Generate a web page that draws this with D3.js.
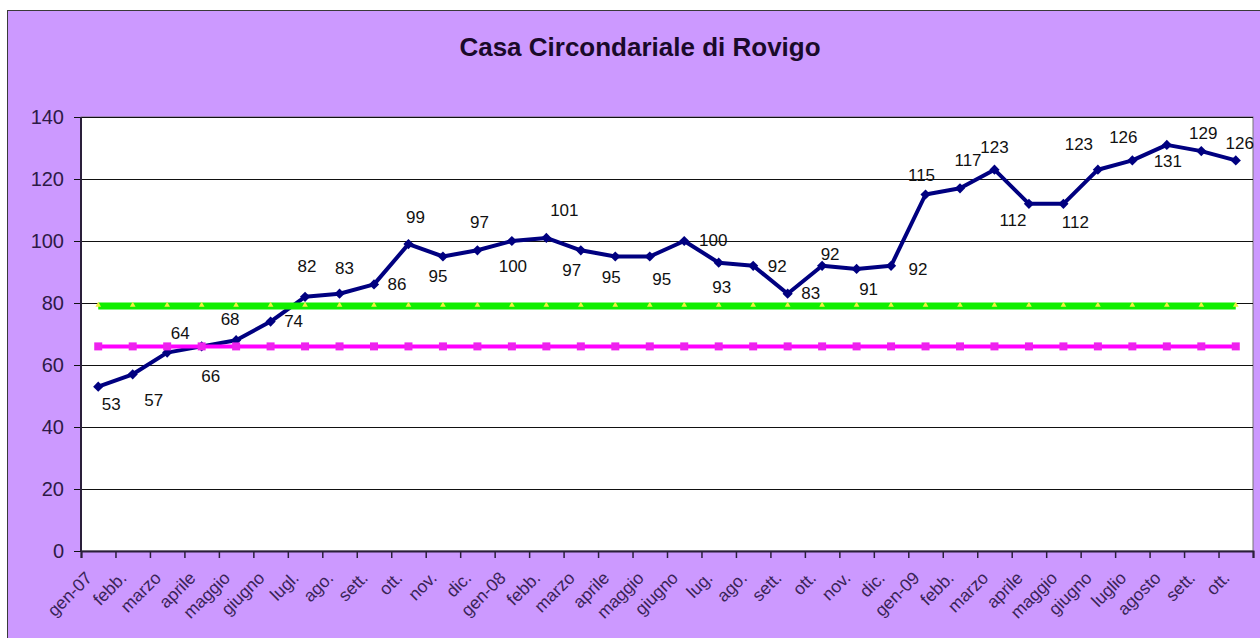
<!DOCTYPE html>
<html>
<head>
<meta charset="utf-8">
<title>Casa Circondariale di Rovigo</title>
<script src="https://cdn.jsdelivr.net/npm/d3@7"></script>
<style>
  body { margin: 0; background: #fff; }
  svg { display: block; font-family: "Liberation Sans", Arial, sans-serif; }
</style>
</head>
<body>
<svg width="1260" height="638"></svg>
<script>

// data
const months = ['gen-07','febb.','marzo','aprile','maggio','giugno','lugl.','ago.','sett.','ott.','nov.','dic.',
                'gen-08','febb.','marzo','aprile','maggio','giugno','lug.','ago.','sett.','ott.','nov.','dic.',
                'gen-09','febb.','marzo','aprile','maggio','giugno','luglio','agosto','sett.','ott.'];
const presenze = [53,57,64,66,68,74,82,83,86,99,95,97,
                  100,101,97,95,95,100,93,92,83,92,91,92,
                  115,117,123,112,112,123,126,131,129,126];
const tollerabile = [79,79,79,79,79,79,79,79,79,79,79,79,79,79,79,79,79,
                     79,79,79,79,79,79,79,79,79,79,79,79,79,79,79,79,79];
const regolamentare = [66,66,66,66,66,66,66,66,66,66,66,66,66,66,66,66,66,
                       66,66,66,66,66,66,66,66,66,66,66,66,66,66,66,66,66];
const yTicks = [0,20,40,60,80,100,120,140];

// where each value label sits relative to its point
const labelOffsets = [[13,18],[21,26],[13,-19],[9,30],[-6,-21],[23,0],[2,-30],[5,-25],[23,0],[7,-27],[-5,20],[2,-28],
                      [1,25],[18,-27],[-9,20],[-4,21],[12,23],[29,-1],[3,25],[24,1],[23,0],[8,-11],[12,21],[27,4],
                      [-4,-19],[8,-28],[0,-22],[-16,17],[12,19],[-19,-25],[-9,-23],[1,17],[2,-18],[4,-17]];

const svg = d3.select('svg');

const plot = { left: 81, top: 117, right: 1253, bottom: 551 };

// frame
svg.append('rect')
    .attr('x', 7.5).attr('y', 10.5)
    .attr('width', 1262).attr('height', 640)
    .attr('fill', '#cc99ff')
    .attr('stroke', '#3a3a3a');

svg.append('rect')
    .attr('x', plot.left).attr('y', plot.top)
    .attr('width', plot.right - plot.left).attr('height', plot.bottom - plot.top)
    .attr('fill', '#fff')
    .attr('stroke', '#777')
    .attr('stroke-width', 1);

svg.append('text')
    .attr('x', 640).attr('y', 56)
    .attr('text-anchor', 'middle')
    .attr('font-size', 26)
    .attr('font-weight', 'bold')
    .attr('fill', '#1a0a2a')
    .text('Casa Circondariale di Rovigo');

// scales
const x = d3.scaleBand()
    .domain(d3.range(months.length))
    .range([plot.left, plot.right]);

const y = d3.scaleLinear()
    .domain([0, 140])
    .range([plot.bottom, plot.top]);

const cx = i => x(i) + x.bandwidth() / 2;

// grid + y axis
const yAxis = d3.axisLeft(y)
    .tickValues(yTicks)
    .tickSize(-(plot.right - plot.left))
    .tickPadding(17);

const yAxisG = svg.append('g')
    .attr('transform', `translate(${plot.left},0)`)
    .call(yAxis);
yAxisG.select('.domain').remove();
yAxisG.selectAll('.tick line')
    .attr('stroke', '#111')
    .attr('x1', -7)
    .attr('stroke-width', 1.2);
yAxisG.selectAll('.tick text')
    .attr('font-size', 20)
    .attr('font-family', '"Liberation Sans", Arial, sans-serif')
    .attr('fill', '#2e1a47');

svg.append('line')
    .attr('x1', plot.left).attr('x2', plot.left)
    .attr('y1', plot.top).attr('y2', plot.bottom)
    .attr('stroke', '#2a1f3a').attr('stroke-width', 2);

// x axis
const xBoundaries = d3.scaleLinear()
    .domain([0, months.length])
    .range([plot.left, plot.right]);

const xAxisG = svg.append('g')
    .attr('transform', `translate(0,${plot.bottom})`)
    .call(d3.axisBottom(xBoundaries).tickValues(d3.range(months.length + 1)).tickSize(7).tickFormat(''));
xAxisG.select('.domain').attr('stroke', '#2a1f3a').attr('stroke-width', 2);
xAxisG.selectAll('.tick line').attr('stroke', '#2a1f3a').attr('stroke-width', 1.5);

svg.append('g')
    .selectAll('text')
    .data(months)
    .join('text')
        .attr('transform', (d, i) => `translate(${cx(i) - 5},${plot.bottom + 28}) rotate(-45)`)
        .attr('text-anchor', 'end')
        .attr('font-size', 17.5)
        .attr('fill', '#3a2458')
        .text(d => d);

// main series
const line = d3.line()
    .x((d, i) => cx(i))
    .y(d => y(d));

svg.append('path')
    .datum(presenze)
    .attr('d', line)
    .attr('fill', 'none')
    .attr('stroke', '#000080')
    .attr('stroke-width', 4)
    .attr('stroke-linejoin', 'round');

svg.append('g')
    .selectAll('path')
    .data(presenze)
    .join('path')
        .attr('d', d3.symbol(d3.symbolSquare, 52))
        .attr('transform', (d, i) => `translate(${cx(i)},${y(d)}) rotate(45)`)
        .attr('fill', '#000080');

// capienza tollerabile
svg.append('path')
    .datum(tollerabile)
    .attr('d', line)
    .attr('fill', 'none')
    .attr('stroke', '#11ee00')
    .attr('stroke-width', 7);

svg.append('g')
    .selectAll('path')
    .data(tollerabile)
    .join('path')
        .attr('d', d3.symbol(d3.symbolTriangle, 14))
        .attr('transform', (d, i) => `translate(${cx(i)},${y(d) - 1})`)
        .attr('fill', '#f0f040');

// capienza regolamentare
svg.append('path')
    .datum(regolamentare)
    .attr('d', line)
    .attr('fill', 'none')
    .attr('stroke', '#ff00ff')
    .attr('stroke-width', 4);

svg.append('g')
    .selectAll('rect')
    .data(regolamentare)
    .join('rect')
        .attr('x', (d, i) => cx(i) - 4)
        .attr('y', d => y(d) - 4)
        .attr('width', 8).attr('height', 8)
        .attr('fill', '#ee22ee');

// value labels
svg.append('g')
    .selectAll('text')
    .data(presenze)
    .join('text')
        .attr('x', (d, i) => cx(i) + labelOffsets[i][0])
        .attr('y', (d, i) => y(d) + labelOffsets[i][1])
        .attr('text-anchor', 'middle')
        .attr('dominant-baseline', 'central')
        .attr('font-size', 17)
        .attr('fill', '#111')
        .text(d => d);

</script>
</body>
</html>
